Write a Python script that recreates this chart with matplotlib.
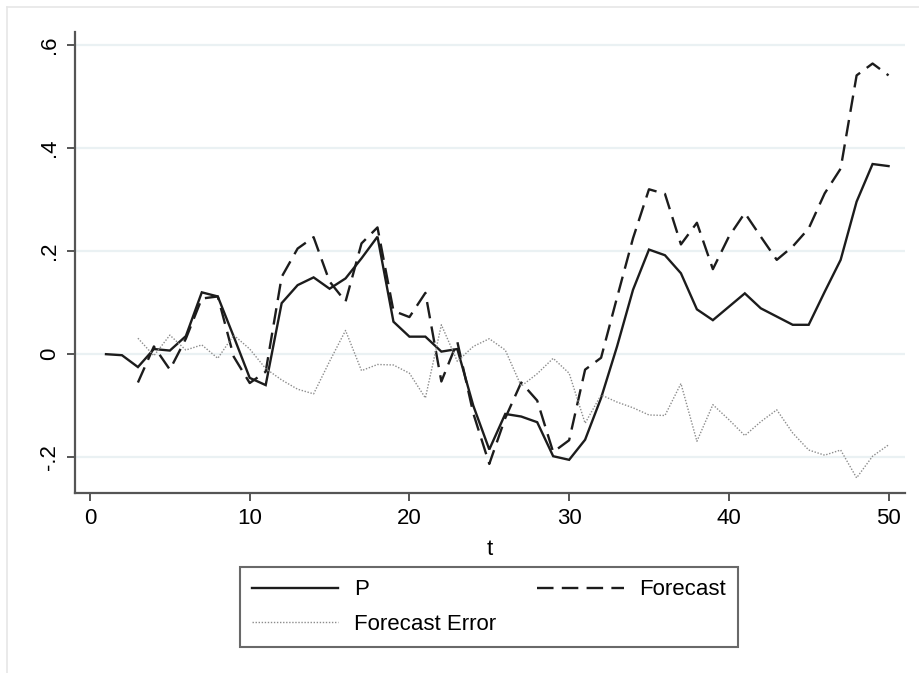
import numpy as np
import matplotlib
matplotlib.use("Agg")
import matplotlib.pyplot as plt
from matplotlib.lines import Line2D

plt.rcParams['font.family'] = ['Liberation Sans', 'DejaVu Sans']

t = list(range(1, 51))

p_values = [0.0, -0.002, -0.025, 0.01, 0.007, 0.035, 0.12, 0.112, 0.034, -0.046,
            -0.06, 0.099, 0.134, 0.149, 0.127, 0.147, 0.186, 0.228, 0.063, 0.034,
            0.034, 0.005, 0.01, -0.1, -0.185, -0.116, -0.121, -0.132, -0.198, -0.205,
            -0.166, -0.085, 0.015, 0.125, 0.203, 0.192, 0.157, 0.087, 0.066, 0.092,
            0.118, 0.089, 0.073, 0.057, 0.057, 0.121, 0.183, 0.296, 0.369, 0.365]

forecast = [np.nan, np.nan, -0.055, 0.015, -0.03, 0.03, 0.108, 0.112, -0.005, -0.056,
            -0.034, 0.15, 0.205, 0.227, 0.141, 0.102, 0.215, 0.246, 0.084, 0.072,
            0.119, -0.053, 0.024, -0.115, -0.213, -0.124, -0.055, -0.09, -0.19, -0.167,
            -0.03, -0.007, 0.11, 0.225, 0.32, 0.311, 0.213, 0.255, 0.165, 0.228,
            0.274, 0.228, 0.183, 0.209, 0.244, 0.312, 0.36, 0.541, 0.564, 0.541]

forecast_error = [np.nan, np.nan, 0.031, -0.003, 0.037, 0.008, 0.018, -0.008, 0.037, 0.01,
                  -0.028, -0.05, -0.068, -0.077, -0.014, 0.046, -0.032, -0.02, -0.021, -0.037,
                  -0.085, 0.057, -0.014, 0.015, 0.03, 0.008, -0.062, -0.038, -0.008, -0.037,
                  -0.134, -0.079, -0.093, -0.104, -0.118, -0.119, -0.057, -0.169, -0.098, -0.127,
                  -0.158, -0.131, -0.108, -0.153, -0.186, -0.196, -0.186, -0.24, -0.198, -0.176]

x_ticks = [0, 10, 20, 30, 40, 50]
y_ticks = [-0.2, 0, 0.2, 0.4, 0.6]
y_tick_labels = ["-.2", "0", ".2", ".4", ".6"]

W, H = 919, 673
fig = plt.figure(figsize=(W / 100, H / 100), dpi=100)

# faint outer frame on the left and top edges
fig.add_artist(Line2D([7 / W, 7 / W], [0, 1 - 7 / H], color="#e6e6e6", lw=1.2,
                      transform=fig.transFigure))
fig.add_artist(Line2D([7 / W, 1], [1 - 7 / H, 1 - 7 / H], color="#e6e6e6", lw=1.2,
                      transform=fig.transFigure))

left, right, top, bottom = 75, 905, 32, 493
ax = fig.add_axes([left / W, 1 - bottom / H, (right - left) / W, (bottom - top) / H])

ax.set_xlim(-0.94, 51.03)
ax.set_ylim(-0.2694, 0.6252)

for y in y_ticks:
    ax.axhline(y, color="#eaf1f3", lw=1.6, zorder=0)

ink = "#1c1c1c"
l_p, = ax.plot(t, p_values, color=ink, lw=1.7, solid_joinstyle="miter", label="P")
l_f, = ax.plot(t, forecast, color=ink, lw=1.7, dashes=(7, 3.5), label="Forecast")
l_e, = ax.plot(t, forecast_error, color="#8c8c8c", lw=1.0, dashes=(1, 1.2),
               label="Forecast Error")

for side in ("top", "right"):
    ax.spines[side].set_visible(False)
for side in ("left", "bottom"):
    ax.spines[side].set_color("#555555")
    ax.spines[side].set_linewidth(1.6)

ax.set_xticks(x_ticks)
ax.set_yticks(y_ticks)
ax.set_yticklabels(y_tick_labels, rotation=90, va="center")
ax.tick_params(axis="both", direction="out", length=6, width=1.4, color="#555555",
               labelsize=16, labelcolor="black", pad=5)
ax.set_xlabel("t", fontsize=16, labelpad=7)

leg = fig.legend(handles=[l_p, l_e, l_f], labels=["P", "Forecast Error", "Forecast"],
                 ncol=2, loc="center", bbox_to_anchor=(489 / W, 1 - 607 / H),
                 fontsize=16, frameon=True, fancybox=False, handlelength=3.9,
                 handletextpad=0.7, columnspacing=1.85, labelspacing=0.6,
                 borderpad=0.55)
frame = leg.get_frame()
frame.set_edgecolor("#444444")
frame.set_linewidth(1.5)

fig.savefig("out.png", dpi=100, facecolor="white")
